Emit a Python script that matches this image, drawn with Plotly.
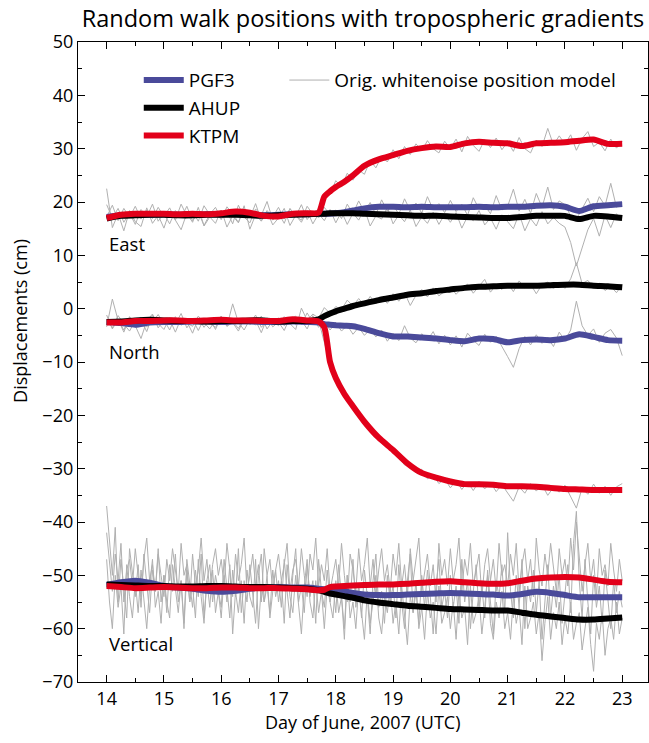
import plotly.graph_objects as go

# ---------------- data ----------------
# noisy (original white-noise model) series
# horizontal components: every 0.1 day from 14.0 to 23.0
noise_days = [round(14 + i / 10, 2) for i in range(91)]
# vertical component: every 0.05 day from 14.0 to 23.0
noise_days_fine = [round(14 + i / 20, 2) for i in range(181)]

east_pgf3_raw = [
    19.5, 17.0, 18.8, 16.2, 17.9, 15.8, 18.6, 17.2, 19.6, 16.4,
    17.8, 15.9, 18.4, 17.0, 19.2, 16.5, 18.1, 15.6, 17.7, 19.0,
    16.8, 18.3, 15.9, 19.4, 17.2, 16.1, 18.7, 17.5, 20.1, 16.6,
    17.9, 16.0, 18.8, 17.3, 19.5, 16.7, 18.2, 17.0, 19.0, 17.6,
    18.5, 16.9, 19.6, 17.8, 20.2, 18.1, 19.9, 17.6, 20.4, 18.3,
    19.5, 17.7, 20.6, 18.4, 19.8, 17.9, 21.0, 18.6, 19.7, 18.0,
    20.3, 18.2, 19.6, 17.5, 20.8, 18.7, 19.4, 17.8, 21.2, 18.5,
    19.2, 22.4, 18.3, 20.5, 17.9, 21.6, 19.0, 22.8, 18.6, 20.2,
    19.5, 17.4, 16.8, 18.9, 20.7, 18.2, 21.0, 19.3, 23.5, 19.0,
    19.8]
east_ahup_raw = [
    22.5, 15.2, 17.8, 14.6, 18.4, 16.3, 15.4, 18.9, 16.0, 17.5,
    15.1, 18.3, 16.6, 14.8, 17.9, 16.2, 19.0, 15.5, 17.2, 16.0,
    18.5, 15.3, 17.4, 16.1, 19.3, 14.9, 17.6, 16.4, 18.2, 15.7,
    17.0, 18.8, 15.6, 17.5, 16.2, 18.4, 15.9, 17.8, 16.5, 18.6,
    16.1, 18.2, 15.8, 17.9, 16.6, 18.7, 15.5, 17.4, 16.8, 19.0,
    15.9, 17.6, 16.3, 18.5, 15.4, 17.2, 16.0, 18.1, 15.8, 17.7,
    16.2, 18.0, 15.1, 17.3, 16.5, 18.4, 15.7, 17.0, 14.9, 17.6,
    16.3, 15.0, 17.8, 14.6, 16.9, 15.5, 18.2, 15.9, 17.1, 16.0,
    15.3, 12.4, 8.0, 11.5, 14.8, 16.9, 13.6, 17.5, 15.2, 17.8,
    16.6]
east_ktpm_raw = [
    17.2, 19.4, 16.5, 18.8, 17.1, 19.2, 16.8, 18.5, 16.9, 19.0,
    17.3, 18.9, 16.6, 19.6, 17.4, 18.2, 16.4, 19.3, 17.6, 18.0,
    16.7, 19.1, 17.8, 16.2, 18.6, 17.0, 19.7, 16.5, 18.4, 17.2,
    19.0, 16.8, 18.7, 17.4, 16.6, 19.2, 17.7, 18.3, 20.8, 21.6,
    24.0, 22.8, 25.4, 24.1, 26.0, 25.2, 27.8, 26.4, 28.6, 27.5,
    29.8, 28.1, 30.4, 28.9, 30.9, 29.6, 31.5, 30.0, 29.2, 31.4,
    30.0, 31.8, 29.4, 32.3, 30.6, 29.5, 31.7, 30.2, 32.0, 29.8,
    31.3, 29.5, 32.1, 30.0, 29.2, 31.6, 30.4, 33.8, 30.7, 32.4,
    30.9, 32.6, 29.7, 31.9, 33.2, 30.4, 31.2, 29.6, 31.8, 30.1,
    31.4]

north_pgf3_raw = [
    -1.2, -3.8, -2.0, -4.4, -1.6, -3.2, -5.6, -2.3, -1.0, -3.6,
    -2.1, -4.0, -1.5, -3.1, -2.4, -4.6, -1.8, -3.5, -2.0, -3.9,
    -1.4, -3.3, -2.6, -4.2, -1.9, -3.0, -2.2, -4.5, -1.7, -3.4,
    -2.5, -4.1, -1.6, -3.0, -2.2, -3.8, -1.3, -3.5, -2.4, -4.0,
    -2.6, -4.2, -3.1, -4.8, -3.5, -5.0, -3.9, -5.3, -4.0, -6.1,
    -4.6, -6.0, -3.2, -5.5, -6.4, -4.7, -5.9, -4.3, -6.6, -5.0,
    -6.8, -5.1, -7.2, -4.6, -5.9, -6.9, -4.8, -6.3, -5.2, -7.0,
    -9.0, -11.0, -7.5, -5.2, -6.8, -4.9, -6.5, -5.4, -7.1, -4.4,
    -6.0, -4.0, 1.4, -3.2, -5.0, -3.8, -6.3, -4.6, -3.9, -5.5,
    -8.8]
north_ahup_raw = [
    -3.4, 1.8, -2.2, -4.0, -1.5, -3.0, -2.1, -4.3, -1.2, -2.8,
    -3.9, -1.7, -2.9, -0.9, -3.6, -2.0, -4.1, -1.9, -2.7, -3.5,
    -1.8, -3.3, 0.9, -2.6, -4.0, -2.0, -3.1, -1.4, -3.8, -2.3,
    -3.2, -1.5, -2.8, -3.9, 0.1, -2.2, -1.0, -1.8, 0.2, -0.9,
    0.4, -0.2, 1.6, 0.5, 1.9, 0.6, 2.3, 0.9, 2.1, 1.0,
    2.8, 1.4, 3.0, 0.6, 2.5, 3.6, 2.2, 3.9, 2.4, 3.3,
    4.1, 2.7, 3.8, 4.6, 2.9, 4.2, 5.5, 3.1, 4.4, 3.6,
    4.8, 3.2, 5.2, 3.9, 4.6, 2.8, 4.5, 5.0, 3.7, 4.9,
    3.8, 5.6, 8.6, 4.7, 5.3, 3.9, 4.8, 3.4, 4.2, 3.0,
    4.5]
north_ktpm_raw = [
    -2.0, -3.6, -1.3, -2.9, -4.2, -2.2, -1.6, -3.4, -2.5, -1.1,
    -3.0, -2.0, -4.4, -1.8, -2.7, -3.3, -1.4, -2.6, -3.8, -2.1,
    -1.5, -3.1, -2.4, -3.7, -1.9, -2.8, -1.2, -3.5, -2.3, -2.9,
    -1.7, -3.2, -2.1, -1.4, -3.0, -0.8, -2.6, -2.2, -6.5, -10.4,
    -13.6, -15.2, -17.5, -18.3, -20.0, -20.8, -22.9, -23.4, -24.6, -25.9,
    -27.1, -27.8, -29.3, -29.0, -30.8, -30.1, -31.9, -31.2, -32.8, -31.9,
    -33.6, -32.2, -33.9, -32.5, -34.1, -32.4, -33.8, -32.6, -34.3, -33.0,
    -34.5, -36.1, -33.4, -34.6, -32.8, -34.2, -33.0, -35.0, -33.5, -34.4,
    -33.1, -35.2, -37.4, -33.6, -34.8, -32.9, -34.6, -33.3, -35.0, -33.4,
    -32.8]

vert_pgf3_raw = [
    -37, -44, -50, -41, -55, -47, -52, -58, -45, -50, -54, -48, -56, -46, -51, -57, -49, -53, -45, -55,
    -50, -57, -48, -53, -46, -55, -51, -59, -47, -52, -56, -49, -54, -46, -58, -51, -48, -55, -50, -53,
    -56, -47, -52, -58, -49, -54, -45, -57, -51, -55, -48, -53, -59, -50, -46, -55, -52, -57, -49, -54,
    -51, -56, -47, -53, -58, -50, -45, -55, -52, -57, -48, -54, -51, -59, -47, -53, -56, -49, -55, -52,
    -57, -48, -54, -60, -50, -55, -47, -56, -52, -58, -49, -54, -61, -51, -46, -56, -53, -59, -50, -55,
    -52, -58, -48, -55, -60, -51, -46, -57, -53, -59, -50, -56, -49, -54, -61, -52, -47, -56, -53, -58,
    -50, -56, -52, -59, -47, -55, -51, -60, -53, -48, -57, -52, -58, -49, -55, -61, -51, -54, -48, -57,
    -42, -53, -58, -50, -56, -47, -60, -52, -55, -49, -57, -51, -62, -54, -48, -58, -52, -56, -50, -59,
    -53, -48, -57, -44, -38, -51, -58, -47, -55, -61, -50, -56, -52, -59, -49, -55, -60, -51, -57, -53,
    -56]
vert_ahup_raw = [
    -47, -55, -60, -50, -56, -52, -61, -48, -54, -58, -51, -57, -49, -55, -60, -52, -47, -56, -53, -59,
    -50, -55, -58, -48, -53, -57, -51, -60, -49, -55, -52, -58, -47, -54, -59, -51, -56, -49, -57, -53,
    -58, -50, -55, -48, -61, -53, -57, -51, -59, -49, -54, -56, -47, -60, -52, -55, -50, -58, -53, -49,
    -55, -51, -59, -48, -54, -57, -50, -56, -61, -52, -47, -55, -58, -51, -57, -53, -60, -52, -55, -58,
    -51, -57, -54, -62, -50, -58, -55, -60, -52, -57, -62, -53, -59, -55, -50, -58, -61, -54, -57, -52,
    -59, -55, -61, -52, -58, -63, -54, -57, -51, -60, -56, -62, -53, -58, -55, -61, -52, -59, -57, -54,
    -60, -55, -62, -53, -58, -56, -63, -52, -59, -57, -54, -61, -56, -50, -59, -62, -55, -58, -53, -60,
    -57, -62, -54, -59, -56, -63, -52, -60, -58, -55, -61, -57, -66, -59, -54, -62, -57, -60, -55, -63,
    -58, -61, -55, -62, -59, -57, -64, -60, -56, -63, -68, -59, -62, -57, -65, -60, -58, -62, -55, -61,
    -58]
vert_ktpm_raw = [
    -42, -48, -53, -46, -51, -44, -55, -49, -47, -52, -45, -50, -54, -47, -43, -51, -48, -53, -46, -50,
    -54, -47, -51, -45, -49, -53, -44, -50, -48, -55, -46, -52, -49, -43, -51, -47, -53, -48, -45, -50,
    -47, -52, -44, -49, -54, -46, -51, -48, -43, -53, -50, -46, -52, -48, -55, -45, -50, -47, -53, -49,
    -46, -51, -48, -44, -53, -49, -47, -52, -45, -50, -54, -46, -49, -43, -52, -48, -51, -45, -53, -50,
    -47, -52, -44, -50, -55, -46, -49, -53, -45, -51, -48, -43, -52, -47, -54, -49, -45, -51, -48, -53,
    -46, -50, -44, -52, -48, -54, -45, -51, -47, -43, -53, -49, -46, -52, -48, -55, -44, -50, -47, -52,
    -45, -51, -48, -43, -53, -47, -50, -44, -52, -49, -46, -54, -48, -45, -51, -47, -53, -44, -50, -48,
    -52, -46, -50, -44, -53, -48, -45, -51, -47, -54, -43, -49, -52, -46, -50, -44, -48, -53, -45, -50,
    -47, -52, -43, -49, -40, -46, -53, -48, -44, -51, -47, -54, -45, -50, -48, -52, -44, -49, -53, -47,
    -51]

# random-walk (tropospheric gradient) solutions
smooth_days = [14.0, 14.25, 14.5, 14.75, 15.0, 15.25, 15.5, 15.75, 16.0, 16.25,
               16.5, 16.75, 17.0, 17.25, 17.5, 17.7, 17.8, 17.9, 18.0, 18.15,
               18.3, 18.5, 18.75, 19.0, 19.25, 19.5, 19.75, 20.0, 20.25, 20.5,
               20.75, 21.0, 21.25, 21.5, 21.75, 22.0, 22.25, 22.5, 22.75, 23.0]

east_pgf3 = [17.2, 17.5, 17.6, 17.6, 17.7, 17.6, 17.6, 17.7, 17.7, 17.8,
             17.6, 17.5, 17.6, 17.7, 17.7, 17.8, 17.8, 17.8, 17.9, 18.1,
             18.4, 18.8, 19.1, 19.1, 19.0, 19.1, 19.0, 19.0, 19.0, 19.1,
             19.0, 19.1, 19.1, 19.3, 19.4, 19.1, 18.3, 19.2, 19.4, 19.6]
east_ahup = [16.9, 17.4, 17.5, 17.6, 17.6, 17.5, 17.5, 17.6, 17.6, 17.6,
             17.5, 17.4, 17.5, 17.6, 17.7, 17.8, 17.8, 17.9, 17.9, 17.9,
             17.9, 17.8, 17.7, 17.6, 17.5, 17.4, 17.4, 17.3, 17.2, 17.1,
             17.0, 17.0, 17.2, 17.4, 17.4, 17.4, 16.8, 17.4, 17.3, 17.0]
east_ktpm = [17.0, 17.6, 17.8, 17.8, 17.8, 17.7, 17.8, 17.7, 17.9, 18.2,
             18.0, 17.4, 17.3, 17.8, 17.9, 18.0, 21.0, 22.0, 22.8, 23.8,
             25.0, 26.8, 28.0, 28.8, 29.6, 30.1, 30.4, 30.3, 31.0, 31.3,
             31.1, 31.0, 30.5, 31.0, 31.1, 31.2, 31.5, 31.7, 30.9, 30.9]

north_pgf3 = [-2.5, -2.7, -3.0, -2.6, -2.5, -2.5, -2.4, -2.4, -2.5, -2.4,
              -2.4, -2.5, -2.5, -2.4, -2.5, -2.6, -2.9, -3.0, -3.1, -3.2,
              -3.3, -3.8, -4.6, -5.2, -5.2, -5.4, -5.6, -5.9, -6.1, -5.6,
              -5.7, -6.3, -5.9, -5.8, -5.9, -5.6, -4.8, -5.3, -5.9, -6.0]
north_ahup = [-2.5, -2.4, -2.2, -2.1, -2.2, -2.3, -2.3, -2.4, -2.3, -2.3,
              -2.2, -2.2, -2.4, -2.3, -2.3, -2.0, -1.4, -0.9, -0.5, 0.0,
              0.5, 1.0, 1.6, 2.1, 2.6, 2.9, 3.3, 3.6, 3.9, 4.1,
              4.2, 4.3, 4.3, 4.3, 4.4, 4.5, 4.5, 4.3, 4.2, 4.0]
north_ktpm = [-2.6, -2.6, -2.3, -2.3, -2.2, -2.2, -2.3, -2.2, -2.1, -2.2,
              -2.2, -2.3, -2.3, -2.0, -2.2, -2.4, -3.5, -10.0, -13.0, -16.0,
              -18.3, -21.2, -24.2, -26.5, -29.0, -30.8, -31.7, -32.4, -32.9, -32.9,
              -33.0, -33.3, -33.3, -33.4, -33.6, -33.8, -33.9, -34.0, -34.0, -34.0]

vert_pgf3 = [-51.8, -51.3, -51.0, -51.4, -52.0, -52.3, -52.5, -52.9, -53.1, -52.9,
             -52.5, -52.3, -52.2, -52.3, -52.3, -52.5, -52.6, -52.7, -52.8, -53.0,
             -53.3, -53.6, -53.7, -53.7, -53.6, -53.5, -53.4, -53.3, -53.4, -53.5,
             -53.6, -53.8, -53.5, -53.1, -53.3, -53.7, -54.1, -54.1, -54.1, -54.1]
vert_ahup = [-51.7, -51.8, -51.9, -52.0, -52.0, -52.1, -52.1, -52.0, -52.0, -52.1,
             -52.2, -52.2, -52.3, -52.4, -52.5, -52.8, -53.1, -53.4, -53.6, -53.9,
             -54.2, -54.7, -55.1, -55.4, -55.7, -55.9, -56.1, -56.3, -56.4, -56.5,
             -56.6, -56.6, -57.0, -57.4, -57.7, -58.0, -58.3, -58.3, -58.1, -57.9]
vert_ktpm = [-52.0, -52.2, -52.4, -52.3, -52.2, -52.3, -52.4, -52.4, -52.3, -52.3,
             -52.4, -52.4, -52.4, -52.5, -52.6, -52.8, -52.7, -52.2, -52.1, -52.0,
             -51.9, -51.8, -51.7, -51.7, -51.6, -51.4, -51.2, -51.1, -51.3, -51.5,
             -51.6, -51.5, -51.0, -50.6, -50.4, -50.3, -50.4, -50.8, -51.2, -51.3]

station_names = ["PGF3", "AHUP", "KTPM"]
noise_label = "Orig. whitenoise position model"
component_labels = ["East", "North", "Vertical"]
component_label_y = [12.3, -8.1, -62.7]

x_ticks = list(range(14, 24))
y_ticks = list(range(-70, 51, 10))

# ---------------- styling ----------------
FONT = "Open Sans"
colors = {"PGF3": "#4a4a9a", "AHUP": "#000000", "KTPM": "#e2001a"}
GRAY = "#b0b0b0"

fig = go.Figure()

raw_sets = [(noise_days, east_pgf3_raw), (noise_days, east_ahup_raw), (noise_days, east_ktpm_raw),
            (noise_days, north_pgf3_raw), (noise_days, north_ahup_raw), (noise_days, north_ktpm_raw),
            (noise_days_fine, vert_pgf3_raw), (noise_days_fine, vert_ahup_raw),
            (noise_days_fine, vert_ktpm_raw)]
for i, (xs, ys) in enumerate(raw_sets):
    fig.add_trace(go.Scatter(
        x=xs, y=ys, mode="lines",
        line=dict(color=GRAY, width=1.0),
        name=noise_label, legend="legend2",
        showlegend=(i == 0), hoverinfo="skip"))

smooth_sets = {
    "PGF3": [east_pgf3, north_pgf3, vert_pgf3],
    "AHUP": [east_ahup, north_ahup, vert_ahup],
    "KTPM": [east_ktpm, north_ktpm, vert_ktpm],
}
for name in station_names:
    for j, ys in enumerate(smooth_sets[name]):
        fig.add_trace(go.Scatter(
            x=smooth_days, y=ys, mode="lines",
            line=dict(color=colors[name], width=6, shape="spline", smoothing=0.6),
            name=name, legendgroup=name, legend="legend",
            showlegend=(j == 0)))

for lab, yv in zip(component_labels, component_label_y):
    fig.add_annotation(x=14, y=yv, text=lab, showarrow=False,
                       xanchor="left", yanchor="middle",
                       font=dict(family=FONT, size=18.5, color="black"))

# axis titles as annotations (paper coordinates)
fig.add_annotation(x=-0.102, y=0.564, xref="paper", yref="paper",
                   text="Displacements (cm)", textangle=-90, showarrow=False,
                   xanchor="center", yanchor="middle",
                   font=dict(family=FONT, size=18, color="black"))
fig.add_annotation(x=0.5, y=-0.0625, xref="paper", yref="paper",
                   text="Day of June, 2007 (UTC)", showarrow=False,
                   xanchor="center", yanchor="middle",
                   font=dict(family=FONT, size=18, color="black"))

axis_common = dict(
    showline=True, linecolor="black", linewidth=1.3, mirror="ticks",
    ticks="inside", ticklen=7, tickwidth=1.2, tickcolor="black",
    showgrid=False, zeroline=False, automargin=False,
    tickfont=dict(family=FONT, size=18, color="black"),
)

fig.update_layout(
    width=649, height=743,
    margin=dict(l=78, r=1, t=42, b=61),
    paper_bgcolor="white", plot_bgcolor="white",
    title=dict(text="Random walk positions with tropospheric gradients",
               x=0.5, xref="paper", xanchor="center",
               y=0.975, yref="container", yanchor="middle",
               font=dict(family=FONT, size=23.5, color="black")),
    xaxis=dict(range=[13.5, 23.45], tickvals=x_ticks,
               minor=dict(dtick=0.5, tick0=14, ticks="inside", ticklen=4,
                          tickcolor="black", showgrid=False),
               **axis_common),
    yaxis=dict(range=[-70, 50], tickvals=y_ticks,
               minor=dict(dtick=5, tick0=0, ticks="inside", ticklen=4,
                          tickcolor="black", showgrid=False),
               **axis_common),
    legend=dict(x=0.1066, y=0.97, xanchor="left", yanchor="top",
                bgcolor="rgba(0,0,0,0)", traceorder="grouped", tracegroupgap=0,
                font=dict(family=FONT, size=19, color="black"), itemwidth=40),
    legend2=dict(x=0.362, y=0.97, xanchor="left", yanchor="top",
                 bgcolor="rgba(0,0,0,0)",
                 font=dict(family=FONT, size=19, color="black"), itemwidth=40),
    showlegend=True,
)

fig.write_html("out.html", config={"displayModeBar": False},
               post_script="document.body.style.margin='0';")
